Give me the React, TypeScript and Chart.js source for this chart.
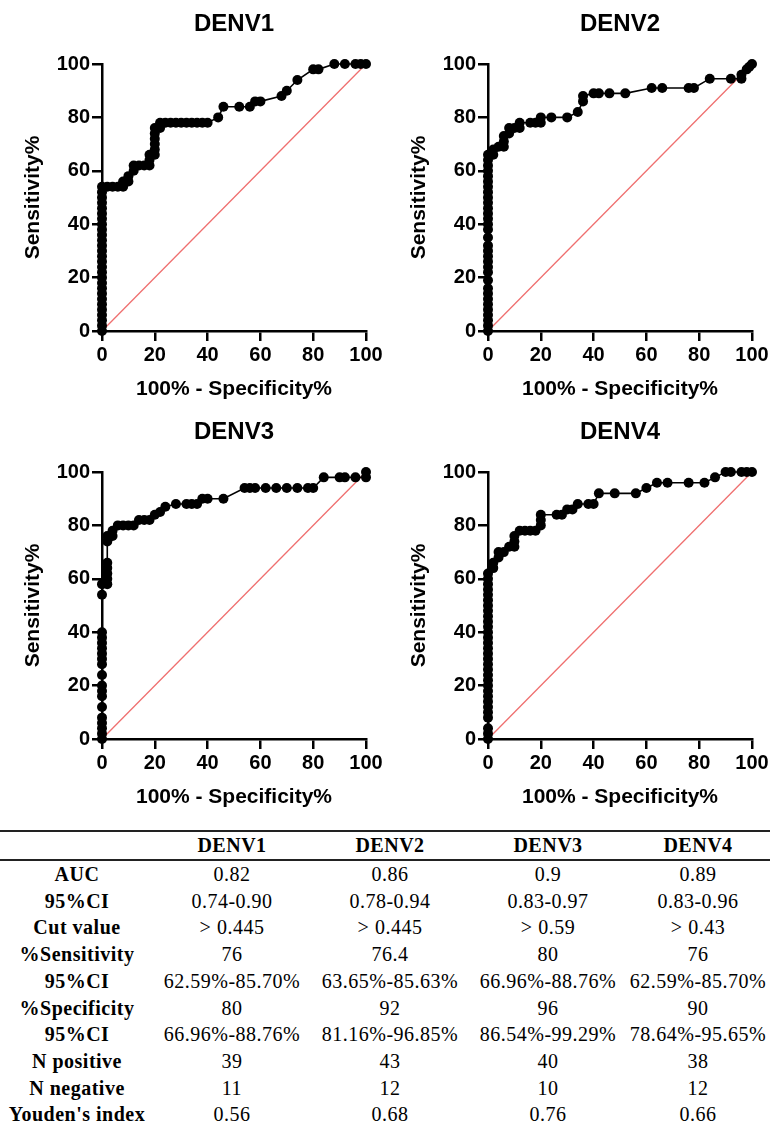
import React, { useEffect, useRef } from 'react';
import { Chart, registerables } from 'chart.js';

Chart.register(...registerables);

// ---------- data ----------
const AXIS_TICKS = [0, 20, 40, 60, 80, 100];
const X_TITLE = '100% - Specificity%';
const Y_TITLE = 'Sensitivity%';
const PANEL_TITLES = ['DENV1', 'DENV2', 'DENV3', 'DENV4'];
const REFERENCE_LINE: [number, number][] = [[0, 0], [100, 100]];

// [100% - specificity%, sensitivity%]
const DENV1_ROC: [number, number][] = [
  [0, 0], [0, 2], [0, 4], [0, 6], [0, 8], [0, 10], [0, 12], [0, 14], [0, 16], [0, 18],
  [0, 20], [0, 22], [0, 24], [0, 26], [0, 28], [0, 30], [0, 32], [0, 34], [0, 36], [0, 38],
  [0, 40], [0, 42], [0, 44], [0, 46], [0, 48], [0, 50], [0, 52], [0, 54],
  [2, 54], [4, 54], [6, 54], [8, 54], [8, 56], [10, 56], [10, 58], [12, 60], [12, 62],
  [14, 62], [16, 62], [18, 62], [18, 64], [18, 66], [20, 66], [20, 68], [20, 70], [20, 72],
  [20, 74], [20, 76], [22, 76], [22, 78], [24, 78], [26, 78], [28, 78], [30, 78], [32, 78],
  [34, 78], [36, 78], [38, 78], [40, 78], [44, 80], [46, 84], [52, 84], [56, 84], [58, 86],
  [60, 86], [68, 88], [70, 90], [74, 94], [80, 98], [82, 98], [88, 100], [92, 100],
  [96, 100], [98, 100], [100, 100],
];

const DENV2_ROC: [number, number][] = [
  [0, 0], [0, 2], [0, 4], [0, 6], [0, 8], [0, 10], [0, 12], [0, 14], [0, 16], [0, 19],
  [0, 22], [0, 24], [0, 26], [0, 28], [0, 30], [0, 32], [0, 35], [0, 38], [0, 40], [0, 42],
  [0, 44], [0, 46], [0, 48], [0, 50], [0, 52], [0, 54], [0, 56], [0, 58], [0, 60], [0, 62],
  [0, 64], [0, 66],
  [2, 66], [2, 68], [4, 69], [6, 69], [6, 71], [6, 73], [8, 74], [8, 76], [10, 76], [12, 76],
  [12, 78], [16, 78], [18, 78], [20, 78], [20, 80], [24, 80], [30, 80], [34, 82], [36, 86],
  [36, 88], [40, 89], [42, 89], [46, 89], [52, 89], [62, 91], [66, 91], [76, 91], [78, 91],
  [84, 94.5], [92, 94.5], [96, 94.5], [96, 96], [98, 98], [99, 99], [100, 100],
];

const DENV3_ROC: [number, number][] = [
  [0, 0], [0, 2], [0, 4], [0, 6], [0, 8], [0, 12], [0, 16], [0, 18], [0, 20], [0, 24],
  [0, 28], [0, 30], [0, 32], [0, 34], [0, 36], [0, 38], [0, 40], [0, 54], [0, 58],
  [2, 58], [2, 60], [2, 62], [2, 64], [2, 66], [2, 74], [2, 76], [4, 76], [4, 78], [6, 80],
  [8, 80], [10, 80], [12, 80], [14, 82], [16, 82], [18, 82], [20, 84], [22, 85], [24, 87],
  [28, 88], [32, 88], [34, 88], [36, 88], [38, 90], [40, 90], [46, 90], [54, 94], [56, 94],
  [58, 94], [62, 94], [66, 94], [70, 94], [74, 94], [78, 94], [80, 94], [84, 98], [90, 98],
  [92, 98], [96, 98], [100, 98], [100, 100],
];

const DENV4_ROC: [number, number][] = [
  [0, 0], [0, 2], [0, 4], [0, 8], [0, 10], [0, 12], [0, 14], [0, 16], [0, 18], [0, 20],
  [0, 22], [0, 24], [0, 26], [0, 28], [0, 30], [0, 32], [0, 34], [0, 36], [0, 38], [0, 40],
  [0, 42], [0, 44], [0, 46], [0, 48], [0, 50], [0, 52], [0, 54], [0, 56], [0, 58], [0, 60],
  [0, 62],
  [2, 64], [2, 66], [4, 68], [4, 70], [6, 70], [8, 72], [10, 72], [10, 74], [10, 76], [12, 78],
  [14, 78], [16, 78], [18, 78], [20, 80], [20, 82], [20, 84], [26, 84], [28, 84], [30, 86],
  [32, 86], [34, 88], [38, 88], [40, 88], [42, 92], [48, 92], [56, 92], [60, 94], [64, 96],
  [68, 96], [76, 96], [82, 96], [86, 98], [90, 100], [92, 100], [96, 100], [98, 100], [100, 100],
];

const ROC_SERIES = [DENV1_ROC, DENV2_ROC, DENV3_ROC, DENV4_ROC];

// table
const TABLE_HEADERS = ['', 'DENV1', 'DENV2', 'DENV3', 'DENV4'];
const ROW_LABELS = ['AUC', '95%CI', 'Cut value', '%Sensitivity', '95%CI', '%Specificity', '95%CI', 'N positive', 'N negative', "Youden's index"];
const DENV1_STATS = ['0.82', '0.74-0.90', '> 0.445', '76', '62.59%-85.70%', '80', '66.96%-88.76%', '39', '11', '0.56'];
const DENV2_STATS = ['0.86', '0.78-0.94', '> 0.445', '76.4', '63.65%-85.63%', '92', '81.16%-96.85%', '43', '12', '0.68'];
const DENV3_STATS = ['0.9', '0.83-0.97', '> 0.59', '80', '66.96%-88.76%', '96', '86.54%-99.29%', '40', '10', '0.76'];
const DENV4_STATS = ['0.89', '0.83-0.96', '> 0.43', '76', '62.59%-85.70%', '90', '78.64%-95.65%', '38', '12', '0.66'];
const STAT_COLUMNS = [DENV1_STATS, DENV2_STATS, DENV3_STATS, DENV4_STATS];

// ---------- layout / style ----------
const SANS = '"Liberation Sans", Arial, Helvetica, sans-serif';
const SERIF = '"Liberation Serif", "Times New Roman", Times, serif';
const CANVAS_W = 385;
const CANVAS_H = 404;
const PANEL_POS = [[0, 0], [386, 0], [0, 408], [386, 408]];
const COL_WIDTHS = [154, 156, 160, 156, 144];

function makeConfig(title: string, points: [number, number][]): any {
  const axisBase = {
    type: 'linear',
    min: 0,
    max: 100,
    afterBuildTicks: (scale: any) => {
      scale.ticks = AXIS_TICKS.map((v) => ({ value: v }));
    },
    grid: {
      display: true,
      drawOnChartArea: false,
      drawTicks: true,
      tickLength: 10,
      color: '#000',
      lineWidth: 2.5,
    },
    border: { display: true, color: '#000', width: 2.5 },
  };
  return {
    type: 'scatter',
    data: {
      datasets: [
        {
          data: points.map(([x, y]) => ({ x, y })),
          showLine: true,
          borderColor: '#000',
          borderWidth: 1.6,
          pointRadius: 5,
          pointBackgroundColor: '#000',
          pointBorderColor: '#000',
          pointBorderWidth: 0,
          clip: false,
          order: 0,
        },
        {
          data: REFERENCE_LINE.map(([x, y]) => ({ x, y })),
          showLine: true,
          borderColor: '#ef6f6f',
          borderWidth: 1.3,
          pointRadius: 0,
          clip: false,
          order: 1,
        },
      ],
    },
    options: {
      animation: false,
      responsive: false,
      devicePixelRatio: 1,
      layout: { padding: { left: 0, right: 19, top: 0, bottom: 0 } },
      plugins: {
        legend: { display: false },
        tooltip: { enabled: false },
        title: {
          display: true,
          text: title,
          fullSize: false,
          color: '#000',
          font: { family: SANS, size: 24, weight: 'bold', lineHeight: 1.2 },
          padding: { top: 9.5, bottom: 25.7 },
        },
      },
      scales: {
        x: {
          ...axisBase,
          position: 'bottom',
          afterFit: (scale: any) => {
            scale.height = CANVAS_H - 331;
          },
          ticks: {
            color: '#000',
            font: { family: SANS, size: 20, weight: 'bold', lineHeight: 1.2 },
            padding: 2,
            maxRotation: 0,
            autoSkip: false,
          },
          title: {
            display: true,
            text: X_TITLE,
            color: '#000',
            font: { family: SANS, size: 21, weight: 'bold', lineHeight: 1.2 },
            padding: { top: 0, bottom: 2 },
          },
        },
        y: {
          ...axisBase,
          position: 'left',
          afterFit: (scale: any) => {
            scale.width = 102;
          },
          ticks: {
            color: '#000',
            font: { family: SANS, size: 20, weight: 'bold', lineHeight: 1.2 },
            padding: 2,
            autoSkip: false,
          },
          title: {
            display: true,
            text: Y_TITLE,
            color: '#000',
            font: { family: SANS, size: 21, weight: 'bold', lineHeight: 1.2 },
            padding: { top: 21, bottom: 0 },
          },
        },
      },
    },
  };
}

function RocChart({ title, points, left, top }: { title: string; points: [number, number][]; left: number; top: number }) {
  const ref = useRef<HTMLCanvasElement>(null);
  useEffect(() => {
    if (!ref.current) return;
    const chart = new Chart(ref.current, makeConfig(title, points));
    return () => chart.destroy();
  }, [title, points]);
  return (
    <canvas
      ref={ref}
      width={CANVAS_W}
      height={CANVAS_H}
      style={{ position: 'absolute', left, top, width: CANVAS_W, height: CANVAS_H, display: 'block' }}
    />
  );
}

export default function App() {
  const cell: React.CSSProperties = {
    padding: 0,
    height: 26.7,
    lineHeight: '26.7px',
    textAlign: 'center',
    whiteSpace: 'nowrap',
    overflow: 'visible',
  };
  return (
    <div style={{ position: 'absolute', left: 0, top: 0, width: 770, height: 1124, background: '#fff', overflow: 'hidden' }}>
      {PANEL_TITLES.map((t, i) => (
        <RocChart key={t} title={t} points={ROC_SERIES[i]} left={PANEL_POS[i][0]} top={PANEL_POS[i][1]} />
      ))}
      <table
        style={{
          position: 'absolute',
          left: 0,
          top: 830,
          width: 770,
          borderCollapse: 'collapse',
          tableLayout: 'fixed',
          fontFamily: SERIF,
          fontSize: 20,
          letterSpacing: 0.5,
          color: '#000',
        }}
      >
        <colgroup>
          {COL_WIDTHS.map((w, i) => (
            <col key={i} style={{ width: w }} />
          ))}
        </colgroup>
        <thead>
          <tr style={{ borderTop: '2px solid #222', borderBottom: '2px solid #222' }}>
            {TABLE_HEADERS.map((h, i) => (
              <th key={i} style={{ ...cell, height: 27, lineHeight: '27px', fontWeight: 'bold' }}>
                {h}
              </th>
            ))}
          </tr>
        </thead>
        <tbody>
          {ROW_LABELS.map((label, r) => (
            <tr key={r}>
              <td style={{ ...cell, fontWeight: 'bold' }}>{label}</td>
              {STAT_COLUMNS.map((col, c) => (
                <td key={c} style={cell}>
                  {col[r]}
                </td>
              ))}
            </tr>
          ))}
        </tbody>
      </table>
    </div>
  );
}
